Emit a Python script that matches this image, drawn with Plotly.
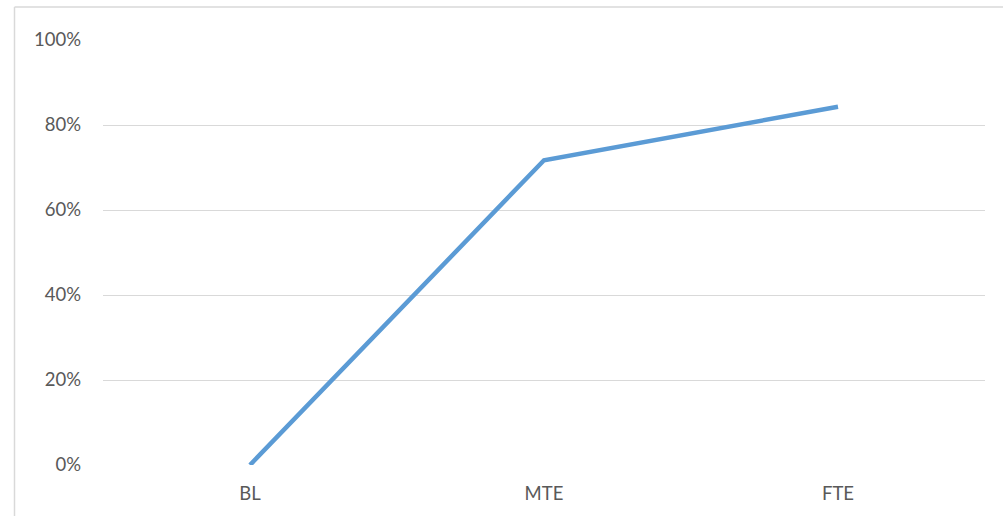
import plotly.graph_objects as go

categories = ["BL", "MTE", "FTE"]
values = [0.0, 0.717, 0.843]
y_ticks = [0, 0.2, 0.4, 0.6, 0.8, 1.0]
y_tick_labels = ["0%", "20%", "40%", "60%", "80%", "100%"]

W, H = 1003, 516
L, R, T, B = 103, 18, 40, 51
pw, ph = W - L - R, H - T - B

def px_x(px):
    return (px - L) / pw

def px_y(py):
    return (H - B - py) / ph

fig = go.Figure()
fig.add_trace(go.Scatter(
    x=categories, y=values, mode="lines",
    line=dict(color="#5B9BD5", width=4.5),
    hoverinfo="skip", showlegend=False,
))

fig.update_layout(
    width=W, height=H,
    margin=dict(l=L, r=R, t=T, b=B, pad=0, autoexpand=False),
    paper_bgcolor="white", plot_bgcolor="white",
    font=dict(family="Lato, Open Sans, sans-serif", size=18.5, color="#595959"),
    xaxis=dict(
        range=[-0.5, 2.5], showgrid=False, zeroline=False, showline=False,
        ticks="", ticklabelstandoff=15, fixedrange=True, automargin=False,
    ),
    yaxis=dict(
        range=[0, 1], tickvals=y_ticks, ticktext=y_tick_labels,
        showgrid=True, gridcolor="#d9d9d9", gridwidth=1.3,
        zeroline=False, showline=False, ticks="",
        ticklabelstandoff=21, fixedrange=True, automargin=False,
    ),
    shapes=[
        dict(type="line", xref="paper", yref="paper",
             x0=px_x(14.5), x1=px_x(14.5), y0=px_y(7), y1=px_y(520),
             line=dict(color="#d9d9d9", width=1.5)),
        dict(type="line", xref="paper", yref="paper",
             x0=px_x(14.5), x1=px_x(1010), y0=px_y(7), y1=px_y(7),
             line=dict(color="#d9d9d9", width=1.5)),
    ],
)

fig.write_html("out.html")
